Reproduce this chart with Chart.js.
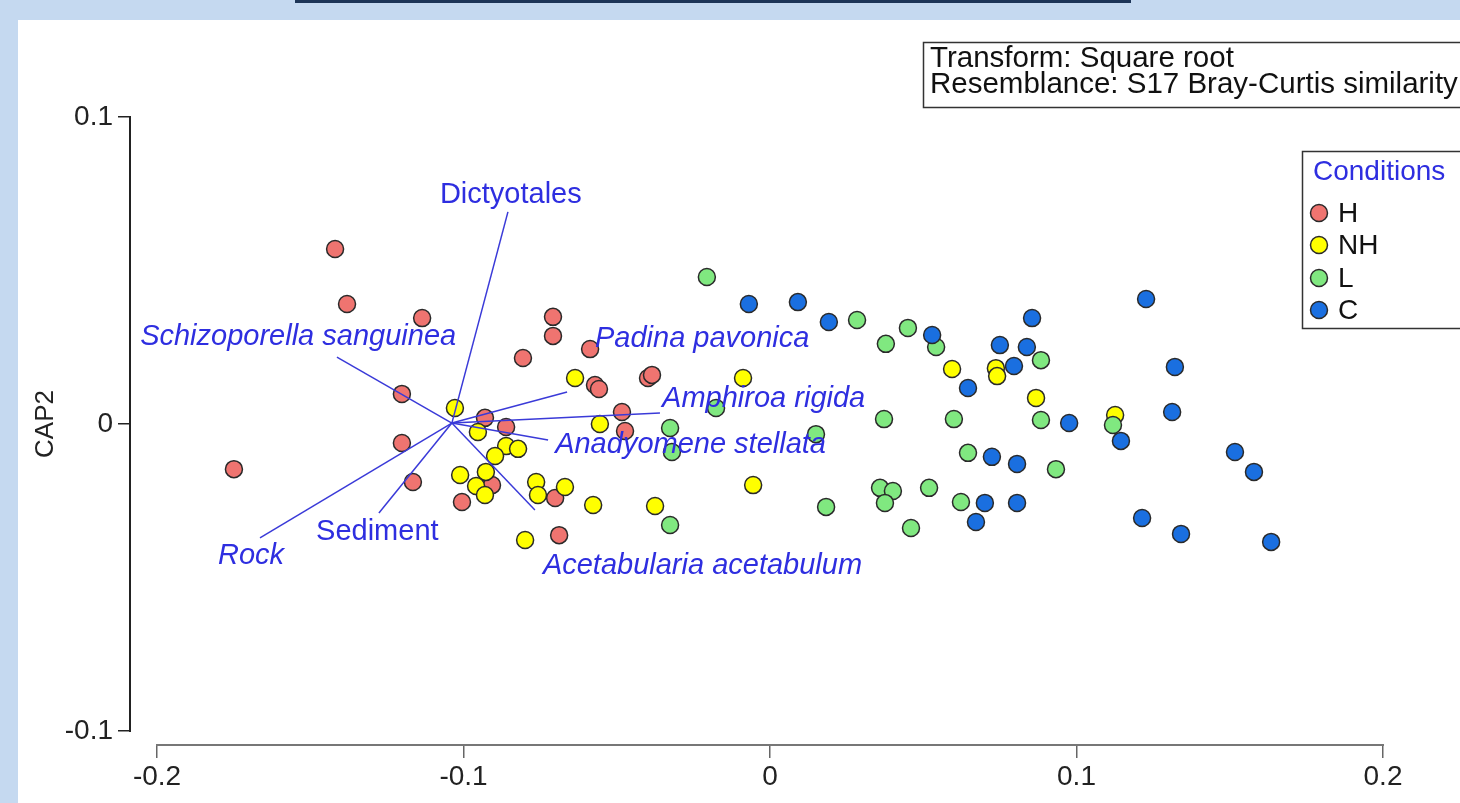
<!DOCTYPE html>
<html>
<head>
<meta charset="utf-8">
<title>CAP ordination</title>
<script src="https://cdn.jsdelivr.net/npm/chart.js@4.4.1/dist/chart.umd.min.js"></script>
<style>
    html, body { margin: 0; padding: 0; }
    body { width: 1460px; height: 803px; background: #c5d9f0; position: relative; overflow: hidden; }
    #topbar { position: absolute; left: 295px; top: 0; width: 836px; height: 3px; background: #1d3557; }
    #panel { position: absolute; left: 18px; top: 20px; width: 1442px; height: 783px; background: #fff; }
</style>
</head>
<body>
<div id="topbar"></div>
<div id="panel"><canvas id="cap" width="1442" height="783"></canvas></div>
<script>
// axis ticks
const tickX = [-0.2, -0.1, 0, 0.1, 0.2];
const tickY = [-0.1, 0, 0.1];

// CAP1 / CAP2 scores per condition
const hX = [-0.1419, -0.1380, -0.1135, -0.1201, -0.1201, -0.1749, -0.1165, -0.1005, -0.0930, -0.0861, -0.0907, -0.0701,
            -0.0688, -0.0571, -0.0558, -0.0398, -0.0385, -0.0483, -0.0473, -0.0587, -0.0708, -0.0708, -0.0806];
const hY = [0.0570, 0.0391, 0.0345, 0.0098, -0.0062, -0.0147, -0.0189, -0.0254, 0.0020, -0.0010, -0.0199, -0.0241,
            -0.0362, 0.0127, 0.0114, 0.0150, 0.0160, 0.0039, -0.0023, 0.0244, 0.0349, 0.0287, 0.0215];

const nhX = [-0.1028, -0.0953, -0.0861, -0.0822, -0.0897, -0.1011, -0.0927, -0.0959, -0.0930, -0.0763, -0.0757, -0.0669,
             -0.0577, -0.0375, -0.0799, -0.0636, -0.0555, -0.0088, -0.0055, 0.0594, 0.0737, 0.0741, 0.0868, 0.1126];
const nhY = [0.0052, -0.0026, -0.0072, -0.0081, -0.0104, -0.0166, -0.0156, -0.0202, -0.0231, -0.0189, -0.0231, -0.0205,
             -0.0264, -0.0267, -0.0378, 0.0150, 0.0000, 0.0150, -0.0199, 0.0179, 0.0182, 0.0156, 0.0085, 0.0029];

const lX = [-0.0206, 0.0284, 0.0450, 0.0378, 0.0542, 0.0884, -0.0176, 0.0372, 0.0600, 0.0884, 0.1119, 0.0150,
            0.0646, 0.0933, 0.0359, 0.0401, 0.0375, 0.0519, 0.0183, 0.0623, 0.0460, -0.0326, -0.0320, -0.0326];
const lY = [0.0479, 0.0339, 0.0313, 0.0261, 0.0251, 0.0208, 0.0052, 0.0016, 0.0016, 0.0013, -0.0003, -0.0033,
            -0.0094, -0.0147, -0.0208, -0.0218, -0.0257, -0.0208, -0.0270, -0.0254, -0.0339, -0.0013, -0.0091, -0.0329];

const cX = [-0.0069, 0.0091, 0.0192, 0.0529, 0.0750, 0.0855, 0.0838, 0.0796, 0.0646, 0.0976, 0.1145, 0.1227,
            0.1321, 0.1312, 0.1517, 0.1579, 0.1214, 0.1341, 0.1635, 0.0724, 0.0806, 0.0701, 0.0806, 0.0672];
const cY = [0.0391, 0.0397, 0.0332, 0.0290, 0.0257, 0.0345, 0.0251, 0.0189, 0.0117, 0.0003, -0.0055, 0.0407,
            0.0186, 0.0039, -0.0091, -0.0156, -0.0306, -0.0358, -0.0384, -0.0107, -0.0130, -0.0257, -0.0257, -0.0319];

// species vectors (drawn from a common origin)
const vectorNames = ['Dictyotales', 'Schizoporella sanguinea', 'Padina pavonica', 'Amphiroa rigida',
                     'Anadyomene stellata', 'Acetabularia acetabulum', 'Sediment', 'Rock'];
const vectorX = [-0.0855, -0.1413, -0.0662, -0.0359, -0.0724, -0.0767, -0.1276, -0.1664];
const vectorY = [0.0691, 0.0218, 0.0104, 0.0036, -0.0052, -0.0280, -0.0290, -0.0371];
const vectorOrigin = { x: -0.1038, y: 0.0003 };

// where each vector label sits (data units, left edge / baseline) and whether it is italic
const labelAnchor = [
    [-0.1077, 0.0720, false], [-0.2055, 0.0257, true], [-0.0571, 0.0251, true], [-0.0352, 0.0055, true],
    [-0.0701, -0.0094, true], [-0.0741, -0.0489, true], [-0.1481, -0.0378, false], [-0.1801, -0.0456, true]
];

const conditions = ['H', 'NH', 'L', 'C'];
const fills = { H: '#ef7470', NH: '#ffff00', L: '#80e880', C: '#1a6fe0' };
const vectorBlue = '#3a3ad8';
const labelBlue = '#2e2ee0';
const FONT = "'Liberation Sans', Arial, sans-serif";

Chart.defaults.font.family = FONT;

const pts = (xs, ys) => xs.map((x, i) => ({ x, y: ys[i] }));
const series = { H: pts(hX, hY), NH: pts(nhX, nhY), L: pts(lX, lY), C: pts(cX, cY) };

const datasets = conditions.map((c, i) => ({
    label: c,
    data: series[c],
    backgroundColor: fills[c],
    borderColor: '#2a2a2a',
    borderWidth: 1.5,
    pointRadius: 8.5,
    order: 4 - i
}));

vectorNames.forEach((name, i) => {
    datasets.push({
        label: name,
        data: [vectorOrigin, { x: vectorX[i], y: vectorY[i] }],
        showLine: true,
        pointRadius: 0,
        borderColor: vectorBlue,
        borderWidth: 1.5,
        order: 0
    });
});

const overlay = {
    id: 'overlay',
    afterDatasetsDraw(chart) {
        const { ctx, chartArea, scales: { x, y } } = chart;
        ctx.save();

        // detached axis lines, spanning only the tick range
        ctx.lineWidth = 2;
        ctx.strokeStyle = '#222';
        ctx.beginPath();
        ctx.moveTo(chartArea.left, y.getPixelForValue(tickY[tickY.length - 1]) - 1);
        ctx.lineTo(chartArea.left, y.getPixelForValue(tickY[0]) + 1);
        ctx.stroke();
        ctx.strokeStyle = '#777';
        ctx.beginPath();
        ctx.moveTo(x.getPixelForValue(tickX[0]) - 1, chartArea.bottom);
        ctx.lineTo(x.getPixelForValue(tickX[tickX.length - 1]) + 1, chartArea.bottom);
        ctx.stroke();

        // vector labels
        ctx.fillStyle = labelBlue;
        ctx.textBaseline = 'alphabetic';
        ctx.textAlign = 'left';
        vectorNames.forEach((name, i) => {
            const [lx, ly, italic] = labelAnchor[i];
            ctx.font = (italic ? 'italic ' : '') + '29px ' + FONT;
            ctx.fillText(name, x.getPixelForValue(lx), y.getPixelForValue(ly));
        });

        // transform / resemblance note
        ctx.strokeStyle = '#333';
        ctx.lineWidth = 1.5;
        ctx.fillStyle = '#fff';
        ctx.fillRect(905, 22, 600, 65);
        ctx.strokeRect(905.5, 22.5, 600, 65);
        ctx.fillStyle = '#111';
        ctx.font = '29.5px ' + FONT;
        ctx.fillText('Transform: Square root', 912, 47);
        ctx.fillText('Resemblance: S17 Bray-Curtis similarity', 912, 73);

        // legend
        ctx.font = '28px ' + FONT;
        ctx.strokeRect(1284.5, 131.5, 200, 177);
        ctx.fillStyle = labelBlue;
        ctx.fillText('Conditions', 1295, 160);
        const rowY = [193, 225, 258, 290];
        ctx.textBaseline = 'middle';
        conditions.forEach((c, i) => {
            ctx.beginPath();
            ctx.arc(1301, rowY[i], 8.5, 0, Math.PI * 2);
            ctx.fillStyle = fills[c];
            ctx.fill();
            ctx.strokeStyle = '#2a2a2a';
            ctx.stroke();
            ctx.fillStyle = '#111';
            ctx.fillText(c, 1320, rowY[i] + 1);
        });
        ctx.restore();
    }
};

new Chart(document.getElementById('cap'), {
    type: 'scatter',
    data: { datasets },
    options: {
        responsive: false,
        animation: false,
        layout: { autoPadding: false, padding: { top: 83, right: 0, bottom: 0, left: 0 } },
        plugins: { legend: { display: false }, tooltip: { enabled: false } },
        scales: {
            x: {
                type: 'linear',
                min: -0.20881,
                max: 0.22512,
                afterBuildTicks: (s) => { s.ticks = tickX.map(v => ({ value: v })); },
                afterFit: (s) => { s.height = 58; },
                border: { display: false },
                grid: { drawOnChartArea: false, drawTicks: true, tickLength: 13, tickColor: '#666', lineWidth: 1.5 },
                ticks: {
                    color: '#222',
                    font: { size: 28 },
                    padding: 2,
                    maxRotation: 0,
                    callback: (v) => String(Math.round(v * 10) / 10)
                }
            },
            y: {
                type: 'linear',
                min: -0.10456,
                max: 0.10456,
                afterBuildTicks: (s) => { s.ticks = tickY.map(v => ({ value: v })); },
                afterFit: (s) => { s.width = 112; },
                border: { display: false },
                grid: { drawOnChartArea: false, drawTicks: true, tickLength: 12, tickColor: '#222', lineWidth: 1.5 },
                ticks: {
                    color: '#222',
                    font: { size: 28 },
                    padding: 5,
                    callback: (v) => String(Math.round(v * 10) / 10)
                },
                title: {
                    display: true,
                    text: 'CAP2',
                    color: '#222',
                    font: { size: 26 },
                    padding: { top: 12, bottom: 0 }
                }
            }
        }
    },
    plugins: [overlay]
});
</script>
</body>
</html>
